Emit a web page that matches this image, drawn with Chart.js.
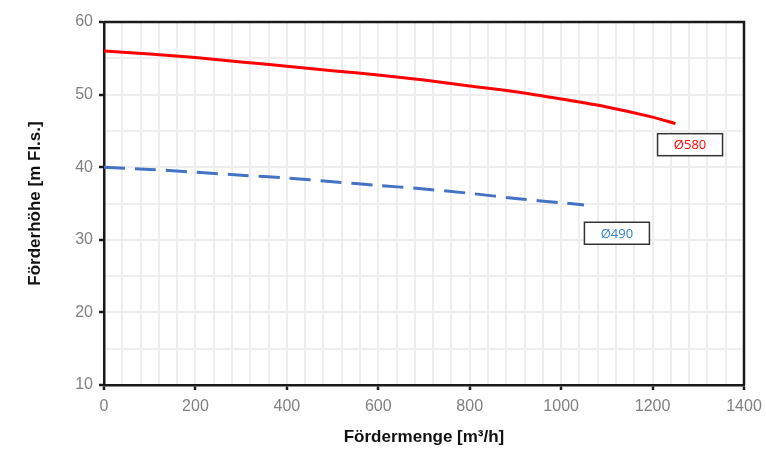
<!DOCTYPE html>
<html>
<head>
<meta charset="utf-8">
<script src="https://cdn.jsdelivr.net/npm/chart.js@4.4.1/dist/chart.umd.min.js"></script>
<style>
  html, body { margin: 0; padding: 0; background: #fff; }
  #wrap { width: 766px; height: 452px; }
</style>
</head>
<body>
<div id="wrap"><canvas id="pumpChart" width="766" height="452"></canvas></div>
<script>
// Förderhöhe über Fördermenge, zwei Laufraddurchmesser
const flow580 = [0, 100, 200, 300, 400, 500, 600, 700, 800, 900, 1000, 1100, 1200, 1250];
const head580 = [56.0, 55.6, 55.1, 54.5, 53.9, 53.3, 52.7, 52.0, 51.2, 50.4, 49.4, 48.3, 46.9, 46.0];

const flow490 = [0, 100, 200, 300, 400, 500, 600, 700, 800, 900, 1000, 1050];
const head490 = [40.0, 39.7, 39.3, 38.9, 38.5, 38.0, 37.5, 37.0, 36.4, 35.7, 35.1, 34.8];

const xTickLabels = [0, 200, 400, 600, 800, 1000, 1200, 1400];
const yTickLabels = [10, 20, 30, 40, 50, 60];

// Beschriftungskästen (Text, Lage in Datenwerten, Farbe)
const curveLabels = ['Ø580', 'Ø490'];
const curveLabelX = [1282, 1122];
const curveLabelY = [43.1, 30.9];
const curveLabelColor = ['#ff0000', '#2e7fd0'];

function toPoints(xs, ys) {
  return xs.map((x, i) => ({ x: x, y: ys[i] }));
}

const frameAndLabels = {
  id: 'frameAndLabels',
  afterDatasetsDraw(chart) {
    const ctx = chart.ctx;
    const a = chart.chartArea;
    const xs = chart.scales.x;
    const ys = chart.scales.y;
    ctx.save();
    // top and right frame
    ctx.strokeStyle = '#1a1a1a';
    ctx.lineWidth = 2.5;
    ctx.beginPath();
    ctx.moveTo(a.left, a.top);
    ctx.lineTo(a.right, a.top);
    ctx.lineTo(a.right, a.bottom);
    ctx.stroke();

    ctx.font = '13px "Open Sans", "Liberation Sans", sans-serif';
    ctx.textAlign = 'center';
    ctx.textBaseline = 'middle';
    curveLabels.forEach((txt, i) => {
      const cx = xs.getPixelForValue(curveLabelX[i]);
      const cy = ys.getPixelForValue(curveLabelY[i]);
      const w = 65, h = 22;
      ctx.fillStyle = '#fff';
      ctx.fillRect(cx - w / 2, cy - h / 2, w, h);
      ctx.strokeStyle = '#333';
      ctx.lineWidth = 1.5;
      ctx.strokeRect(cx - w / 2, cy - h / 2, w, h);
      ctx.fillStyle = curveLabelColor[i];
      ctx.fillText(txt, cx, cy + 1);
    });
    ctx.restore();
  }
};

const ctx = document.getElementById('pumpChart').getContext('2d');
const pumpChart = new Chart(ctx, {
  type: 'line',
  data: {
    datasets: [
      {
        label: 'Ø580',
        data: toPoints(flow580, head580),
        borderColor: '#ff0000',
        borderWidth: 3,
        pointRadius: 0,
        tension: 0.3,
        fill: false
      },
      {
        label: 'Ø490',
        data: toPoints(flow490, head490),
        borderColor: '#4472c4',
        borderWidth: 3,
        borderDash: [21, 10],
        pointRadius: 0,
        tension: 0.3,
        fill: false
      }
    ]
  },
  options: {
    responsive: false,
    animation: false,
    layout: { padding: { left: 0, right: 22, top: 22, bottom: 0 } },
    plugins: {
      legend: { display: false },
      tooltip: { enabled: false }
    },
    scales: {
      x: {
        type: 'linear',
        min: 0,
        max: 1400,
        afterFit: (s) => { s.height = 67; s.paddingLeft = 0; s.paddingRight = 0; },
        ticks: {
          stepSize: 40,
          autoSkip: false,
          maxRotation: 0,
          padding: 7,
          color: '#808080',
          font: { family: '"Liberation Sans", Arial, sans-serif', size: 16 },
          callback: (v) => xTickLabels.includes(v) ? String(v) : ''
        },
        grid: {
          color: '#eeeeee',
          lineWidth: 2,
          tickLength: 5,
          tickWidth: 2.5,
          tickColor: (c) => xTickLabels.includes(c.tick.value) ? '#1a1a1a' : 'rgba(0,0,0,0)'
        },
        border: { color: '#1a1a1a', width: 2.5 },
        title: {
          display: true,
          text: 'Fördermenge [m³/h]',
          color: '#111',
          font: { family: '"Liberation Sans", Arial, sans-serif', size: 17, weight: 'bold' },
          padding: { top: 8, bottom: 4 }
        }
      },
      y: {
        type: 'linear',
        min: 10,
        max: 60,
        afterFit: (s) => { s.width = 104; },
        ticks: {
          stepSize: 5,
          autoSkip: false,
          padding: 6,
          color: '#808080',
          font: { family: '"Liberation Sans", Arial, sans-serif', size: 16 },
          callback: (v) => yTickLabels.includes(v) ? String(v) : ''
        },
        grid: {
          color: '#eeeeee',
          lineWidth: 2,
          tickLength: 5,
          tickWidth: 2.5,
          tickColor: (c) => yTickLabels.includes(c.tick.value) ? '#1a1a1a' : 'rgba(0,0,0,0)'
        },
        border: { color: '#1a1a1a', width: 2.5 },
        title: {
          display: true,
          text: 'Förderhöhe [m Fl.s.]',
          color: '#111',
          font: { family: '"Liberation Sans", Arial, sans-serif', size: 17, weight: 'bold' },
          padding: { top: 25, bottom: 0 }
        }
      }
    }
  },
  plugins: [frameAndLabels]
});
</script>
</body>
</html>
